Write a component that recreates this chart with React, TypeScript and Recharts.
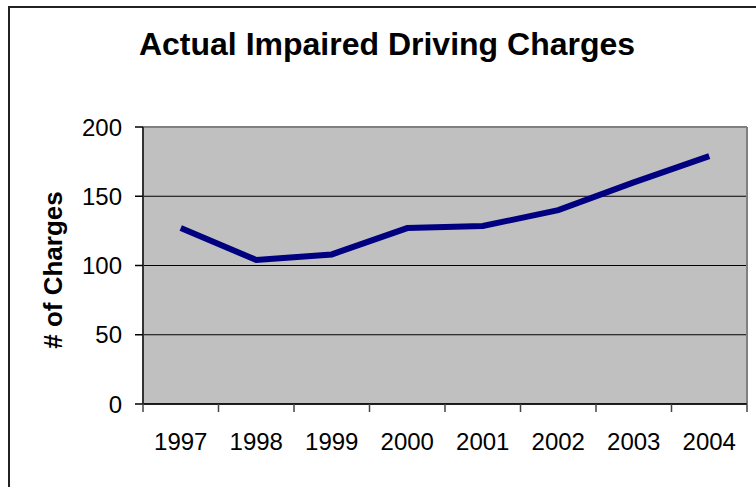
import React from "react";
import { LineChart, Line, XAxis, YAxis, CartesianGrid, ReferenceLine } from "recharts";

const years = ["1997", "1998", "1999", "2000", "2001", "2002", "2003", "2004"];
const charges = [127, 104, 108, 127, 128.5, 140, 160, 179];
const yTicks = [0, 50, 100, 150, 200];
const title = "Actual Impaired Driving Charges";
const yLabel = "# of Charges";

const W = 756;
const H = 487;
const PLOT_LEFT = 143;
const PLOT_RIGHT = 747;
const PLOT_TOP = 127;
const PLOT_BOTTOM = 404;
const Y_AXIS_W = 60;
const X_AXIS_H = 60;
const HALF_BAND = (PLOT_RIGHT - PLOT_LEFT) / years.length / 2;

const data = years.map((y, i) => ({ x: i + 0.5, year: y, value: charges[i] }));
const xTicks = years.map((_, i) => i + 0.5);

const FONT = "'Liberation Sans', Arial, sans-serif";

const XTick = (props: any) => {
  const { x, y, payload } = props;
  const idx = Math.floor(payload.value);
  const label = years[idx] ?? "";
  const isLast = idx === years.length - 1;
  return (
    <g>
      <line x1={x - HALF_BAND} x2={x - HALF_BAND} y1={y - 8} y2={y} stroke="#444" strokeWidth={1.5} />
      {isLast && (
        <line x1={x + HALF_BAND} x2={x + HALF_BAND} y1={y - 8} y2={y} stroke="#444" strokeWidth={1.5} />
      )}
      <text x={x} y={y + 38} textAnchor="middle" fontSize={24} fontFamily={FONT} fill="#000">
        {label}
      </text>
    </g>
  );
};

export default function App() {
  return (
    <div style={{ position: "absolute", left: 0, top: 0, width: W, height: H, overflow: "hidden", background: "#fff" }}>
      <div
        style={{
          position: "absolute",
          left: 8,
          top: 6,
          width: 820,
          height: 600,
          border: "2px solid #222",
          boxSizing: "border-box",
        }}
      />
      <div style={{ position: "absolute", left: 0, top: 0 }}>
        <LineChart
          width={W}
          height={H}
          data={data}
          margin={{
            top: PLOT_TOP,
            right: W - PLOT_RIGHT,
            bottom: H - PLOT_BOTTOM - X_AXIS_H,
            left: PLOT_LEFT - Y_AXIS_W,
          }}
        >
          <CartesianGrid fill="#c0c0c0" fillOpacity={1} stroke="#000" strokeWidth={1} vertical={false} />
          <XAxis
            dataKey="x"
            type="number"
            domain={[0, years.length]}
            ticks={xTicks}
            interval={0}
            tick={<XTick />}
            tickLine={false}
            tickSize={8}
            tickMargin={0}
            axisLine={{ stroke: "#000", strokeWidth: 1.5 }}
            height={X_AXIS_H}
          />
          <YAxis
            type="number"
            domain={[0, 200]}
            ticks={yTicks}
            interval={0}
            width={Y_AXIS_W}
            tickSize={8}
            tickMargin={13}
            tickLine={{ stroke: "#000", strokeWidth: 1.5 }}
            axisLine={{ stroke: "#333", strokeWidth: 2 }}
            tick={{ fontSize: 24, fontFamily: FONT, fill: "#000" }}
          />
          <ReferenceLine y={200} stroke="#808080" strokeWidth={2} />
          <ReferenceLine x={years.length} stroke="#808080" strokeWidth={2} />
          <Line
            type="linear"
            dataKey="value"
            stroke="#000080"
            strokeWidth={6}
            dot={false}
            activeDot={false}
            isAnimationActive={false}
          />
        </LineChart>
      </div>
      <svg width={W} height={H} style={{ position: "absolute", left: 0, top: 0, pointerEvents: "none" }}>
        <text x={387} y={55} textAnchor="middle" fontSize={32} fontWeight="bold" fontFamily={FONT} fill="#000">
          {title}
        </text>
        <text
          x={0}
          y={0}
          transform={`translate(62, 270) rotate(-90)`}
          textAnchor="middle"
          fontSize={26}
          fontWeight="bold"
          fontFamily={FONT}
          fill="#000"
        >
          {yLabel}
        </text>
      </svg>
    </div>
  );
}
